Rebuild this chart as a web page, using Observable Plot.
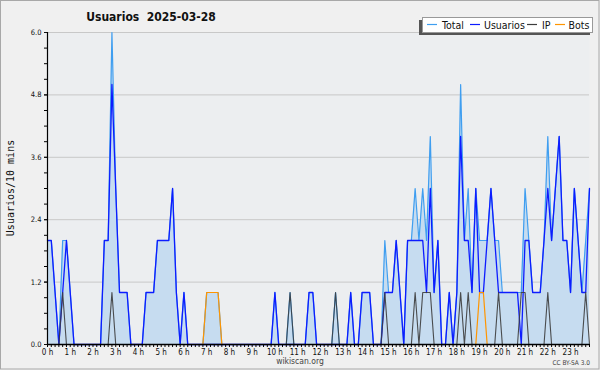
<!DOCTYPE html>
<html>
<head>
<meta charset="utf-8">
<script src="https://cdn.jsdelivr.net/npm/d3@7"></script>
<script src="https://cdn.jsdelivr.net/npm/@observablehq/plot@0.6"></script>
<style>
  html, body { margin: 0; padding: 0; background: #f0f0f0; }
  #chart { width: 600px; height: 370px; }
</style>
</head>
<body>
<div id="chart"></div>
<script>
// 10-minute slots of the day (0 .. 143)
const slots = d3.range(144);

// Values, per 10-minute slot
const usuarios = [
  2,2,1,0,1,2,1,0,0,0,0,0,
  0,0,0,2,2,5,3,1,1,1,0,0,
  0,0,1,1,1,2,2,2,2,3,1,0,
  1,0,0,0,0,0,0,0,0,0,0,0,
  0,0,0,0,0,0,0,0,0,0,0,0,
  1,0,0,0,0,0,0,0,0,1,1,0,
  0,0,0,0,0,0,0,0,1,0,0,1,
  1,1,0,0,0,1,1,1,2,1,0,2,
  2,2,2,2,1,3,1,2,0,0,1,0,
  1,4,2,2,1,3,1,1,2,3,2,1,
  1,1,1,1,1,0,2,2,1,1,1,2,
  3,2,3,4,2,2,1,3,2,1,1,3
];
const ip = [
  0,0,0,0,1,0,0,0,0,0,0,0,
  0,0,0,0,0,1,0,0,0,0,0,0,
  0,0,0,0,0,0,0,0,0,0,0,0,
  0,0,0,0,0,0,0,0,0,0,0,0,
  0,0,0,0,0,0,0,0,0,0,0,0,
  0,0,0,0,1,0,0,0,0,0,0,0,
  0,0,0,0,1,0,0,0,0,0,0,0,
  0,0,0,0,0,1,0,0,0,0,0,0,
  0,1,0,1,1,1,0,0,0,0,0,0,
  0,1,0,1,0,0,0,0,0,0,0,1,
  0,0,0,0,0,1,1,0,0,0,0,0,
  1,0,0,0,0,0,0,0,0,0,1,0
];
const bots = [
  0,0,0,0,0,0,0,0,0,0,0,0,
  0,0,0,0,0,0,0,0,0,0,0,0,
  0,0,0,0,0,0,0,0,0,0,0,0,
  0,0,0,0,0,0,1,1,1,1,0,0,
  0,0,0,0,0,0,0,0,0,0,0,0,
  0,0,0,0,0,0,0,0,0,0,0,0,
  0,0,0,0,0,0,0,0,0,0,0,0,
  0,0,0,0,0,0,0,0,0,0,0,0,
  0,0,0,0,0,0,0,0,0,0,0,0,
  0,0,0,0,0,0,1,1,0,0,0,0,
  0,0,0,0,0,0,0,0,0,0,0,0,
  0,0,0,0,0,0,0,0,0,0,0,0
];
const total = [
  2,2,1,0,2,2,1,0,0,0,0,0,
  0,0,0,2,2,6,3,1,1,1,0,0,
  0,0,1,1,1,2,2,2,2,3,1,0,
  1,0,0,0,0,0,1,1,1,1,0,0,
  0,0,0,0,0,0,0,0,0,0,0,0,
  1,0,0,0,1,0,0,0,0,1,1,0,
  0,0,0,0,1,0,0,0,1,0,0,1,
  1,1,0,0,0,2,1,1,2,1,0,2,
  2,3,2,3,2,4,1,2,0,0,1,0,
  1,5,2,3,1,3,2,2,2,3,2,2,
  1,1,1,1,1,1,3,2,1,1,1,2,
  4,2,3,4,2,2,1,3,2,1,2,3
];

const yTicks = [0, 1.2, 2.4, 3.6, 4.8, 6.0];
const hourLabels = ["0 h","1 h","2 h","3 h","4 h","5 h","6 h","7 h","8 h","9 h","10 h","11 h",
                    "12 h","13 h","14 h","15 h","16 h","17 h","18 h","19 h","20 h","21 h","22 h","23 h"];

const seriesNames = ["Total", "Usuarios", "IP", "Bots"];
const seriesColors = ["#3f9ef0", "#0d1cff", "#3c3c3c", "#ff9500"];

const rows = slots.map(i => ({i, total: total[i], usuarios: usuarios[i], ip: ip[i], bots: bots[i]}));

const condensed = "'DejaVu Sans Condensed', 'DejaVu Sans', sans-serif";

const svg = Plot.plot({
  width: 600,
  height: 370,
  marginLeft: 47,
  marginRight: 11,
  marginTop: 32,
  marginBottom: 26,
  style: {background: "#f0f0f0", fontFamily: condensed, fontSize: "7.5px", color: "#111"},
  x: {domain: [0, 143], axis: null},
  y: {domain: [0, 6], axis: null},
  marks: [
    Plot.frame({fill: "#eceef0", stroke: null}),
    Plot.gridY(yTicks, {stroke: "#c8c8c8", strokeOpacity: 1}),
    Plot.areaY(rows, {x: "i", y: "total", fill: "#c6dcf0", curve: "linear"}),
    Plot.lineY(rows, {x: "i", y: "total", stroke: seriesColors[0], strokeWidth: 1.2}),
    Plot.lineY(rows, {x: "i", y: "usuarios", stroke: seriesColors[1], strokeWidth: 1.3}),
    Plot.lineY(rows, {x: "i", y: "ip", stroke: seriesColors[2], strokeWidth: 1.1, strokeOpacity: 0.9}),
    Plot.lineY(rows, {x: "i", y: "bots", stroke: seriesColors[3], strokeWidth: 1.2}),
    Plot.axisY(d3.range(0, 6.01, 0.3), {tickSize: 3, text: null, label: null, stroke: "#000"}),
    Plot.axisY(yTicks, {tickSize: 3, tickPadding: 3, tickFormat: d => d.toFixed(1), label: null, fontSize: 7.5}),
    Plot.axisX(slots, {tickSize: 3, text: null, label: null, stroke: "#000"}),
    Plot.axisX(hourLabels.map((_, h) => h * 6), {tickSize: 0, tickPadding: 4.5, tickFormat: d => hourLabels[d / 6], label: null, fontSize: 8}),
    Plot.ruleX([0], {stroke: "#000", strokeWidth: 1.2}),
    Plot.ruleY([0], {stroke: "#000", strokeWidth: 1.5})
  ]
});

const s = d3.select(svg);

// Title
s.append("text")
  .attr("x", 151).attr("y", 21)
  .attr("text-anchor", "middle")
  .style("font-family", condensed).style("font-weight", "bold").style("font-size", "12px").style("fill", "#111")
  .style("white-space", "pre")
  .text("Usuarios  2025-03-28");

// Y label
s.append("text")
  .attr("transform", "translate(13.5,188) rotate(-90)")
  .attr("text-anchor", "middle")
  .style("font-family", "'DejaVu Sans Mono', monospace").style("font-size", "10px").style("fill", "#111")
  .text("Usuarios/10 mins");

// Legend
const lg = s.append("g").attr("text-anchor", "start");
lg.append("rect").attr("x", 419).attr("y", 20).attr("width", 171).attr("height", 15).attr("fill", "#555");
lg.append("rect").attr("x", 422.5).attr("y", 17.5).attr("width", 170).attr("height", 15).attr("fill", "#fff").attr("stroke", "#999");
const swatchX = [427, 470, 527, 555];
const textX = [442, 484, 542, 568.5];
seriesNames.forEach((n, k) => {
  lg.append("line").attr("x1", swatchX[k]).attr("x2", swatchX[k] + 10).attr("y1", 24.5).attr("y2", 24.5)
    .attr("stroke", seriesColors[k]).attr("stroke-width", 1.2);
  lg.append("text").attr("x", textX[k]).attr("y", 28.5).attr("text-anchor", "start")
    .style("font-family", condensed).style("font-size", "10.5px").style("fill", "#111")
    .text(n);
});

// Footer
s.append("text").attr("x", 300).attr("y", 363.5).attr("text-anchor", "middle")
  .style("font-family", condensed).style("font-size", "8.5px").style("fill", "#444")
  .text("wikiscan.org");
s.append("text").attr("x", 590).attr("y", 365).attr("text-anchor", "end")
  .style("font-family", condensed).style("font-size", "6.5px").style("fill", "#444")
  .text("CC BY-SA 3.0");

// Outer border
s.append("rect").attr("x", 0.5).attr("y", 0.5).attr("width", 598.5).attr("height", 368.5)
  .attr("fill", "none").attr("stroke", "#a8a8a8");

document.getElementById("chart").appendChild(svg);
</script>
</body>
</html>
